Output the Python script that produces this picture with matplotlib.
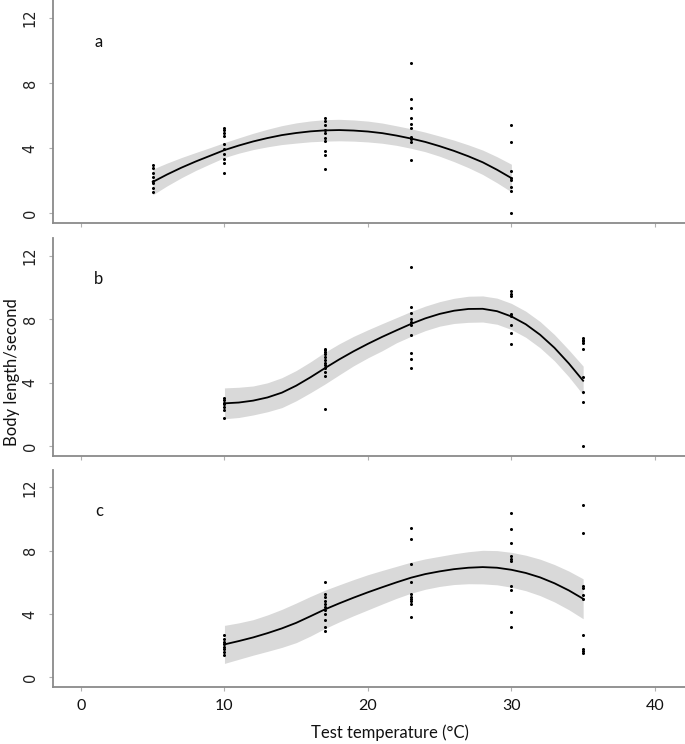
import matplotlib
matplotlib.use('Agg')
import matplotlib.pyplot as plt

# Look of the original figure (R base-graphics style panels)
grey_axis = '#8a8a8a'
band_color = '#d9d9d9'
label_font = 'Lato'

# ---- Panel a: observed speeds per test temperature ----
temps_a = [5, 10, 17, 23, 30]
speeds_a = [
    [2.95, 2.75, 2.5, 2.25, 2.0, 1.85, 1.55, 1.3],
    [5.25, 5.1, 4.95, 4.75, 4.25, 3.95, 3.65, 3.35, 3.1, 2.45],
    [5.85, 5.65, 5.4, 5.1, 4.9, 4.65, 4.45, 3.85, 3.55, 2.7],
    [9.25, 7.0, 6.45, 5.85, 5.5, 5.25, 4.7, 4.55, 4.4, 3.25],
    [5.45, 4.35, 2.6, 2.15, 2.05, 1.6, 1.35, 0.0],
]
# fitted curve and its confidence band, read at every degree
curve_x_a = [5, 6, 7, 8, 9, 10, 11, 12, 13, 14, 15, 16, 17, 18, 19, 20,
             21, 22, 23, 24, 25, 26, 27, 28, 29, 30]
fit_a = [1.92, 2.38, 2.80, 3.18, 3.53, 3.88, 4.16, 4.41, 4.62, 4.80, 4.93, 5.03, 5.09,
         5.11, 5.08, 5.02, 4.92, 4.77, 4.59, 4.38, 4.12, 3.83, 3.50, 3.13, 2.67, 2.16]
upper_a = [2.71, 3.08, 3.42, 3.73, 4.03, 4.34, 4.63, 4.91, 5.16, 5.38, 5.55, 5.67, 5.75,
           5.77, 5.73, 5.66, 5.54, 5.37, 5.19, 4.98, 4.74, 4.49, 4.20, 3.88, 3.47, 3.01]
lower_a = [1.13, 1.68, 2.18, 2.63, 3.03, 3.42, 3.69, 3.91, 4.08, 4.22, 4.31, 4.39, 4.43,
           4.45, 4.43, 4.38, 4.30, 4.17, 3.99, 3.78, 3.50, 3.17, 2.80, 2.38, 1.87, 1.31]

# ---- Panel b ----
temps_b = [10, 17, 23, 30, 35]
speeds_b = [
    [3.05, 2.9, 2.75, 2.65, 2.5, 2.3, 1.8],
    [6.15, 6.05, 5.95, 5.8, 5.6, 5.45, 5.25, 5.1, 4.95, 4.65, 4.4, 2.35],
    [11.25, 8.75, 8.4, 8.0, 7.8, 7.65, 7.0, 5.9, 5.5, 4.95],
    [9.75, 9.6, 9.45, 8.35, 8.2, 7.65, 7.15, 6.45],
    [6.8, 6.7, 6.6, 6.5, 6.15, 4.35, 3.4, 2.8, 0.0],
]
curve_x_b = [10, 11, 12, 13, 14, 15, 16, 17, 18, 19, 20, 21, 22,
             23, 24, 25, 26, 27, 28, 29, 30, 31, 32, 33, 34, 35]
fit_b = [2.71, 2.76, 2.88, 3.08, 3.38, 3.82, 4.35, 4.92, 5.47, 5.98, 6.45, 6.89, 7.30,
         7.70, 8.05, 8.33, 8.53, 8.64, 8.65, 8.50, 8.17, 7.68, 7.02, 6.20, 5.22, 4.13]
upper_b = [3.68, 3.72, 3.80, 4.00, 4.32, 4.77, 5.32, 5.92, 6.45, 6.92, 7.33, 7.72, 8.10,
           8.48, 8.82, 9.10, 9.31, 9.44, 9.46, 9.32, 8.99, 8.50, 7.85, 7.03, 6.07, 5.05]
lower_b = [1.74, 1.82, 1.98, 2.18, 2.44, 2.87, 3.38, 3.92, 4.50, 5.07, 5.57, 6.02, 6.52,
           6.92, 7.28, 7.56, 7.73, 7.80, 7.82, 7.68, 7.35, 6.86, 6.20, 5.38, 4.38, 3.25]

# ---- Panel c ----
temps_c = [10, 17, 23, 30, 35]
speeds_c = [
    [2.7, 2.4, 2.25, 2.1, 1.95, 1.8, 1.6, 1.45],
    [6.05, 5.25, 5.1, 4.85, 4.65, 4.45, 4.25, 4.0, 3.65, 3.2, 2.95],
    [9.45, 8.75, 7.15, 6.0, 5.25, 5.1, 4.95, 4.8, 4.65, 3.8],
    [10.4, 9.35, 8.5, 7.65, 7.5, 7.35, 5.75, 5.5, 4.15, 3.2],
    [10.9, 9.1, 5.75, 5.65, 5.2, 4.95, 2.7, 1.8, 1.65, 1.55],
]
curve_x_c = [10, 11, 12, 13, 14, 15, 16, 17, 18, 19, 20, 21, 22,
             23, 24, 25, 26, 27, 28, 29, 30, 31, 32, 33, 34, 35]
fit_c = [2.09, 2.30, 2.53, 2.80, 3.10, 3.45, 3.87, 4.30, 4.68, 5.04, 5.38, 5.70, 6.01,
         6.30, 6.53, 6.70, 6.84, 6.93, 6.97, 6.93, 6.80, 6.60, 6.32, 5.95, 5.50, 4.97]
upper_c = [3.29, 3.45, 3.65, 3.95, 4.30, 4.70, 5.12, 5.51, 5.85, 6.18, 6.49, 6.76, 7.02,
           7.28, 7.49, 7.65, 7.81, 7.94, 8.03, 8.01, 7.90, 7.72, 7.47, 7.13, 6.72, 6.23]
lower_c = [0.89, 1.15, 1.41, 1.65, 1.90, 2.20, 2.62, 3.09, 3.51, 3.90, 4.27, 4.64, 5.00,
           5.32, 5.57, 5.75, 5.87, 5.92, 5.91, 5.85, 5.70, 5.48, 5.17, 4.77, 4.28, 3.71]

x_ticks = [0, 10, 20, 30, 40]
y_ticks = [0, 4, 8, 12]
panel_names = ['a', 'b', 'c']

panels = [
    (temps_a, speeds_a, curve_x_a, fit_a, upper_a, lower_a),
    (temps_b, speeds_b, curve_x_b, fit_b, upper_b, lower_b),
    (temps_c, speeds_c, curve_x_c, fit_c, upper_c, lower_c),
]

W, H = 685, 744
fig = plt.figure(figsize=(W / 100, H / 100), dpi=100)

# axes boxes in pixels: (top, bottom) of each panel, all share left/right
boxes = [(0, 223), (238, 456), (470, 687)]
left_px = 53

for i, (temps, speeds, cx, fit, up, lo) in enumerate(panels):
    top, bottom = boxes[i]
    ax = fig.add_axes([left_px / W, 1 - bottom / H, (W - left_px) / W, (bottom - top) / H])

    ax.fill_between(cx, lo, up, color=band_color, linewidth=0, zorder=1)
    ax.plot(cx, fit, color='black', linewidth=1.3, zorder=2)
    for t, vals in zip(temps, speeds):
        ax.plot([t] * len(vals), vals, 'o', color='black', markersize=2.2,
                markeredgewidth=0, zorder=3)

    ax.set_xlim(-1.95, 42.1)
    ax.set_ylim(-0.6, 13.1)
    ax.set_xticks(x_ticks)
    ax.set_yticks(y_ticks)

    # only left and bottom axis lines, grey like the source
    ax.spines['top'].set_visible(False)
    ax.spines['right'].set_visible(False)
    for side in ['left', 'bottom']:
        ax.spines[side].set_color(grey_axis)
        ax.spines[side].set_linewidth(1.3)
    ax.tick_params(axis='both', direction='out', length=3, width=0.8, color='#b0b0b0')
    ax.tick_params(axis='y', pad=8, labelsize=10.5, labelcolor='#222222')
    ax.tick_params(axis='x', pad=6)

    for lab in ax.get_yticklabels():
        lab.set_rotation(90)
        lab.set_va('center')
        lab.set_fontfamily('DejaVu Sans')

    if i < 2:
        ax.set_xticklabels([])
    else:
        ax.set_xticklabels([str(v) for v in x_ticks], fontfamily=label_font,
                           fontsize=11.5, color='#111111')

    ax.text(1.25, 10.5, panel_names[i], fontfamily=label_font, fontsize=12,
            ha='center', va='center', color='#111111')

fig.text(12 / W, 1 - 372 / H, 'Body length/second', rotation=90, ha='center', va='center',
         fontfamily=label_font, fontsize=12, color='#111111')
fig.text(390 / W, 1 - 733 / H, 'Test temperature (°C)', ha='center', va='center',
         fontfamily=label_font, fontsize=12, color='#111111')

fig.savefig('out.png', dpi=100)
print("Done.")
